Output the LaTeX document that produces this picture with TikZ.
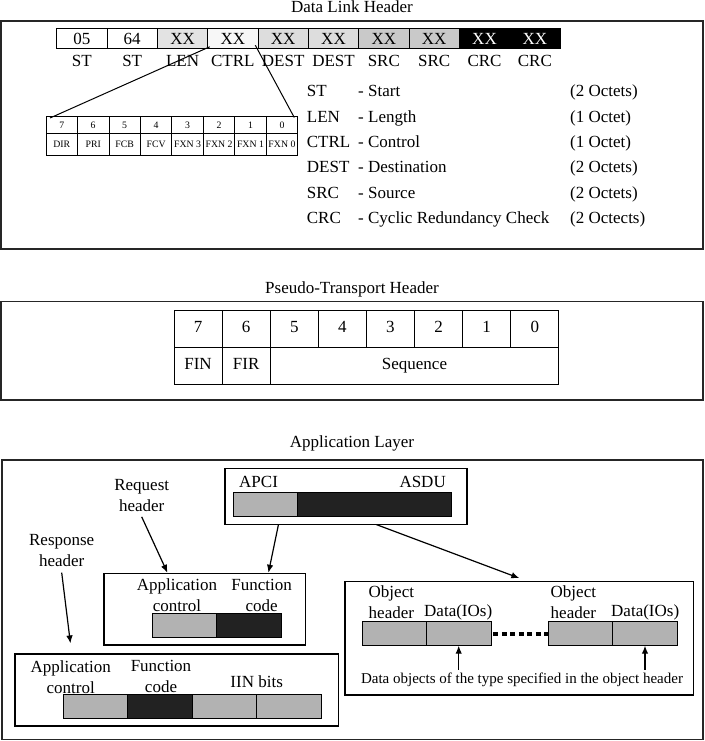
\documentclass[tikz,border=0pt]{standalone}
\usepackage{fontspec}
\setmainfont{Liberation Serif}
\usetikzlibrary{arrows.meta,positioning,calc}
\definecolor{midbar}{RGB}{178,178,178}
\definecolor{darkbar}{RGB}{34,34,34}

\begin{document}
\begin{tikzpicture}[x=1pt,y=-1pt,inner sep=0pt,
    font=\fontsize{17}{20}\selectfont,
    frame/.style={draw=black!85,line width=1.3pt},
    byte/.style={draw,line width=0.9pt,outer sep=0pt,minimum width=50.33pt,minimum height=20pt,text height=11.5pt,text depth=0pt},
    bitcell/.style={draw,line width=0.7pt,outer sep=0pt,minimum width=31.46pt,font=\fontsize{9.8}{11}\selectfont,text height=6.8pt,text depth=0pt},
    ptcell/.style={draw,line width=0.9pt,outer sep=0pt,minimum width=48.1pt,minimum height=37pt,text height=11.5pt,text depth=3.5pt},
    panel/.style={draw,line width=1.1pt},
    bar/.style={draw,line width=0.9pt,outer sep=0pt,minimum width=64.5pt,minimum height=24pt},
    lbl/.style={align=center,font=\fontsize{17}{21}\selectfont},
    arr/.style={-{Latex[length=8pt,width=6.5pt]},line width=1.2pt}]
  \useasboundingbox (0,0) rectangle (704,741);

  % data link header
  \node[anchor=base] (dlTitle) at (352,12.7) {Data Link Header};
  \draw[frame] (1,21) rectangle (703,249);
  \foreach \v/\c/\t/\lab [count=\i from 0] in {05/white/black/ST,64/white/black/ST,XX/gray!22/black/LEN,XX/gray!6/black/CTRL,XX/gray!27/black/DEST,XX/gray!27/black/DEST,XX/gray!42/black/SRC,XX/gray!42/black/SRC,XX/black/white/CRC,XX/black/white/CRC}{
    \node[byte,fill=\c,text=\t] (oct\i) at ({56.7+50.33*(\i+0.5)},38.3) {\v};
    \node[anchor=base] (octlab\i) at ({56.7+50.33*(\i+0.5)},66.7) {\lab};
  }
  \foreach \n/\f [count=\i from 0] in {7/DIR,6/PRI,5/FCB,4/FCV,3/FXN 3,2/FXN 2,1/FXN 1,0/FXN 0}{
    \node[bitcell,minimum height=17pt] (bitno\i) at ({46+31.46*(\i+0.5)},125) {\n};
    \node[bitcell,minimum height=21.5pt] (bitfn\i) at ({46+31.46*(\i+0.5)},144.25) {\f};
  }
  \draw[line width=1pt] ([xshift=2pt,yshift=1.5pt]oct3.south west) -- ([xshift=4pt,yshift=-1.5pt]bitno0.north west);
  \draw[line width=1pt] ([xshift=-2.7pt,yshift=3pt]oct3.south east) -- ([xshift=-3.4pt,yshift=-1pt]bitno7.north east);
  \foreach \ab/\full/\oct [count=\i from 0] in {ST/Start/(2 Octets),LEN/Length/(1 Octet),CTRL/Control/(1 Octet),DEST/Destination/(2 Octets),SRC/Source/(2 Octets),CRC/Cyclic Redundancy Check/(2 Octects)}{
    \node[anchor=base west] (key\i) at (306.7,{97+25.3*\i}) {\ab};
    \node[anchor=base west] (desc\i) at (358,{97+25.3*\i}) {- \full};
    \node[anchor=base west] (size\i) at (570,{97+25.3*\i}) {\oct};
  }

  % pseudo-transport header
  \node[anchor=base] (ptTitle) at (352,293.5) {Pseudo-Transport Header};
  \draw[frame] (1,301.7) rectangle (703,400);
  \foreach \b [count=\i from 0] in {7,...,0}
    \node[ptcell] (ptbit\i) at ({174+48.1*(\i+0.5)},328.5) {\b};
  \node[ptcell] (fin) at ({174+48.1*0.5},365.5) {FIN};
  \node[ptcell] (fir) at ({174+48.1*1.5},365.5) {FIR};
  \node[ptcell,minimum width=288.6pt] (seq) at ({174+48.1*2+144.3},365.5) {Sequence};

  % application layer
  \node[anchor=base] (alTitle) at (352,447.5) {Application Layer};
  \draw[frame] (2,460) rectangle (703,739.5);

  \node[panel,minimum width=242pt,minimum height=55.7pt] (apdu) at (346,496.2) {};
  \node[anchor=base west] (apciLab) at (239,487) {APCI};
  \node[anchor=base east] (asduLab) at (446,487) {ASDU};
  \node[bar,fill=midbar,minimum width=64.4pt] (apci) at (265.5,504.3) {};
  \node[bar,fill=darkbar,minimum width=153.6pt,anchor=west] (asdu) at (apci.east) {};

  \node[lbl] (reqLab) at (141.7,495.5) {Request\\header};
  \node[panel,minimum width=201.7pt,minimum height=71.7pt] (reqBox) at (204.85,609.15) {};
  \node[lbl] (reqAc) at (177,595.5) {Application\\control};
  \node[lbl] (reqFc) at (261.7,595.5) {Function\\code};
  \node[bar,fill=midbar] (reqAcBar) at (184.5,625.3) {};
  \node[bar,fill=darkbar,anchor=west] (reqFcBar) at (reqAcBar.east) {};

  \node[lbl] (respLab) at (61.7,550.3) {Response\\header};
  \node[panel,minimum width=323.3pt,minimum height=72pt] (respBox) at (176.65,690) {};
  \node[lbl] (respAc) at (70.7,676.7) {Application\\control};
  \node[lbl] (respFc) at (161,676.7) {Function\\code};
  \node (iin) at (256.7,681.7) {IIN bits};
  \node[bar,fill=midbar] (respAcBar) at (95.5,706.7) {};
  \node[bar,fill=darkbar,anchor=west] (respFcBar) at (respAcBar.east) {};
  \node[bar,fill=midbar,anchor=west] (respIin1) at (respFcBar.east) {};
  \node[bar,fill=midbar,anchor=west] (respIin2) at (respIin1.east) {};

  \node[panel,minimum width=348.7pt,minimum height=113.3pt] (objBox) at (519.35,638.35) {};
  \node[lbl,align=left,anchor=west] (objHdLab1) at (368.5,602.2) {Object\\header};
  \node[anchor=west] (objDtLab1) at (424,612.7) {Data(IOs)};
  \node[lbl,align=left,anchor=west] (objHdLab2) at (550.5,602.2) {Object\\header};
  \node[anchor=west] (objDtLab2) at (611,612.7) {Data(IOs)};
  \node[bar,fill=midbar] (objHd1) at (394.2,633.7) {};
  \node[bar,fill=midbar,anchor=west] (objDt1) at (objHd1.east) {};
  \node[bar,fill=midbar] (objHd2) at (580.5,633.7) {};
  \node[bar,fill=midbar,anchor=west] (objDt2) at (objHd2.east) {};
  \draw[line width=4pt,dash pattern=on 5pt off 3.5pt] ([xshift=2.5pt]objDt1.east) -- (objHd2.west);
  \node[font=\fontsize{15}{18}\selectfont] (note) at (522,680) {Data objects of the type specified in the object header};
  \draw[arr] ([yshift=3pt]note.north -| objDt1.south) -- (objDt1.south);
  \draw[arr] ([yshift=3pt]note.north -| objDt2.south) -- (objDt2.south);

  \draw[arr] ([yshift=-5pt]reqLab.south) -- ([xshift=64pt]reqBox.north west);
  \draw[arr] ([yshift=-6pt]respLab.south) -- ([xshift=56pt,yshift=10pt]respBox.north west);
  \draw[arr] ([xshift=54pt]apdu.south west) -- ([xshift=165pt]reqBox.north west);
  \draw[arr] ([xshift=152pt]apdu.south west) -- ([yshift=3pt]objBox.north);
\end{tikzpicture}
\end{document}
